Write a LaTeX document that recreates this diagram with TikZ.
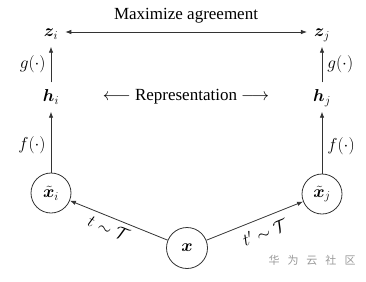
\documentclass[tikz,border=0pt]{standalone}
\usepackage{amsmath,bm}
\usepackage[no-math]{fontspec}
\setmainfont{Liberation Serif}
\newfontfamily\cjk{Noto Sans CJK SC}
\usetikzlibrary{arrows.meta}
\tikzset{
  lbl/.style={inner sep=0pt, font=\fontsize{17}{20}\selectfont},
  vec/.style={font=\fontsize{17}{20}\selectfont, text height=12pt, text depth=3pt, inner sep=7pt},
  circ/.style={circle, draw=black!80, line width=0.8pt, minimum size=40pt, inner sep=0pt, font=\fontsize{17}{20}\selectfont},
  arr/.style={draw=black!80, line width=0.8pt, -{Latex[length=6pt,width=4.5pt]}},
  darr/.style={draw=black!80, line width=0.8pt, {Latex[length=6pt,width=4.5pt]}-{Latex[length=6pt,width=4.5pt]}},
  wm/.style={inner sep=0pt, text=black!40, font=\cjk\fontsize{11}{13}\selectfont}
}
\begin{document}
\begin{tikzpicture}[x=1pt,y=-1pt]
\useasboundingbox (0,0) rectangle (366,281);
\node[vec] (zi) at (51,32) {$\bm{z}_i$};
\node[vec] (zj) at (322,32) {$\bm{z}_j$};
\node[vec] (hi) at (51,97) {$\bm{h}_i$};
\node[vec] (hj) at (322,97) {$\bm{h}_j$};
\node[circ] (xi) at (51,193) {$\tilde{\bm{x}}_i$};
\node[circ] (xj) at (322,194) {$\tilde{\bm{x}}_j$};
\node[circ, minimum size=41pt] (x) at (187,248) {$\bm{x}$};
\node[lbl] (max) at (186,16) {Maximize agreement};
\node[lbl] (rep) at (186,97) {$\longleftarrow$ Representation $\longrightarrow$};
\draw[darr] (zi) -- (zj);
\draw[arr] (hi) -- node[lbl, left=5pt] (gi) {$g(\cdot)$} (zi);
\draw[arr] (hj) -- node[lbl, right=5pt] (gj) {$g(\cdot)$} (zj);
\draw[arr] (xi) -- node[lbl, left=5pt, pos=0.45] (fi) {$f(\cdot)$} (hi);
\draw[arr] (xj) -- node[lbl, right=5pt, pos=0.45] (fj) {$f(\cdot)$} (hj);
\draw[arr] (x) -- node[lbl, sloped, below=5pt, pos=0.56] (ti) {$t\sim\mathcal{T}$} (xi);
\draw[arr] (x) -- node[lbl, sloped, below=7pt, pos=0.55] (tj) {$t'\sim\mathcal{T}$} (xj);
\node[wm] (w) at (312,260) {华\hspace{8pt}为\hspace{8pt}云\hspace{8pt}社\hspace{8pt}区};
\end{tikzpicture}
\end{document}
